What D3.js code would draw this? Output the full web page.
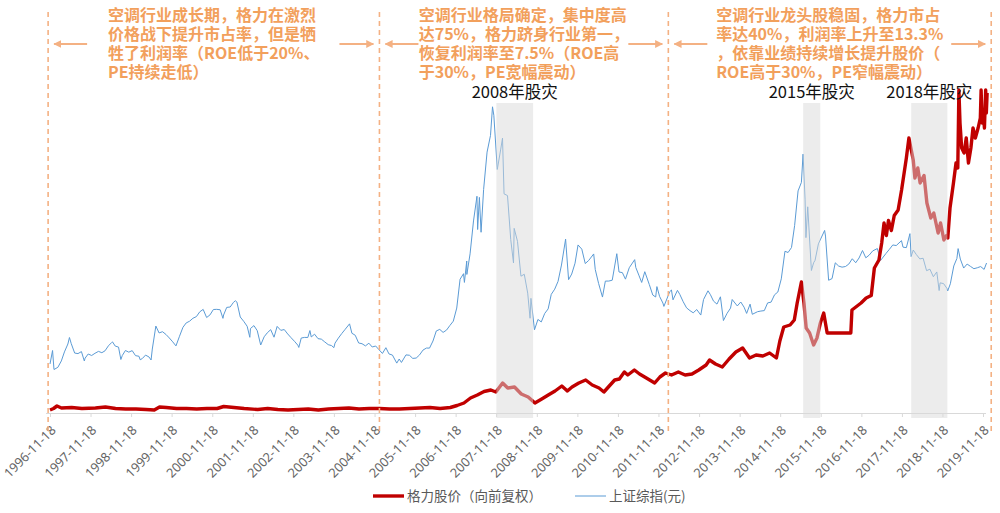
<!DOCTYPE html>
<html><head><meta charset="utf-8">
<script src="https://cdn.jsdelivr.net/npm/d3@7"></script>
<style>
html,body{margin:0;padding:0;background:#fff;}
svg{display:block;font-family:"Noto Sans CJK SC","Noto Sans",sans-serif;}
</style></head>
<body>
<svg id="chart" width="1000" height="513"></svg>
<script>
// ---------------- DATA ----------------
const tickLabels = ["1996-11-18","1997-11-18","1998-11-18","1999-11-18","2000-11-18","2001-11-18","2002-11-18","2003-11-18","2004-11-18","2005-11-18","2006-11-18","2007-11-18","2008-11-18","2009-11-18","2010-11-18","2011-11-18","2012-11-18","2013-11-18","2014-11-18","2015-11-18","2016-11-18","2017-11-18","2018-11-18","2019-11-18"];

// 上证综指 (date, value)
const shanghai = [
["1996-11-18",980],["1996-12-11",1250],["1996-12-24",870],["1997-01-28",914],["1997-02-28",1041],["1997-03-28",1222],["1997-04-28",1380],["1997-05-12",1510],["1997-05-28",1390],["1997-06-28",1199],["1997-07-28",1188],["1997-08-28",1228],["1997-09-23",1041],["1997-09-30",1097],["1997-10-28",1180],["1997-11-28",1150],["1997-12-28",1194],
["1998-01-28",1232],["1998-02-28",1206],["1998-03-28",1243],["1998-04-28",1344],["1998-05-28",1411],["1998-06-04",1422],["1998-06-28",1339],["1998-07-28",1318],["1998-08-18",1070],["1998-08-31",1150],["1998-09-28",1250],["1998-10-28",1217],["1998-11-28",1247],["1998-12-28",1147],
["1999-01-28",1135],["1999-02-08",1064],["1999-02-28",1091],["1999-03-28",1158],["1999-04-28",1121],["1999-05-17",1060],["1999-05-28",1279],["1999-06-29",1739],["1999-07-28",1601],["1999-08-28",1626],["1999-09-28",1571],["1999-10-28",1501],["1999-11-28",1423],["1999-12-27",1342],
["2000-01-28",1535],["2000-02-28",1714],["2000-03-28",1801],["2000-04-28",1836],["2000-05-28",1895],["2000-06-28",1928],["2000-07-28",2023],["2000-08-28",2072],["2000-09-28",1910],["2000-10-28",1961],["2000-11-28",2070],["2000-12-28",2073],
["2001-01-28",2065],["2001-02-22",1893],["2001-02-28",1960],["2001-03-28",2112],["2001-04-28",2120],["2001-05-28",2214],["2001-06-14",2245],["2001-06-28",2218],["2001-07-28",1920],["2001-08-28",1834],["2001-09-28",1735],["2001-10-22",1514],["2001-10-28",1690],["2001-11-28",1748],["2001-12-28",1646],
["2002-01-28",1360],["2002-02-28",1524],["2002-03-28",1603],["2002-04-28",1667],["2002-05-28",1516],["2002-06-25",1732],["2002-07-28",1653],["2002-08-28",1669],["2002-09-28",1581],["2002-10-28",1507],["2002-11-28",1434],["2002-12-28",1357],
["2003-01-06",1311],["2003-01-28",1500],["2003-02-28",1512],["2003-03-28",1510],["2003-04-16",1649],["2003-04-28",1521],["2003-05-28",1576],["2003-06-28",1487],["2003-07-28",1477],["2003-08-28",1421],["2003-09-28",1367],["2003-10-28",1348],["2003-11-18",1307],["2003-11-28",1397],["2003-12-28",1497],
["2004-01-28",1590],["2004-02-28",1675],["2004-04-07",1783],["2004-04-28",1595],["2004-05-28",1555],["2004-06-28",1400],["2004-07-28",1386],["2004-08-28",1342],["2004-09-28",1396],["2004-10-28",1320],["2004-11-28",1340],["2004-12-28",1266],
["2005-01-28",1191],["2005-02-28",1306],["2005-03-28",1181],["2005-04-28",1159],["2005-06-06",998],["2005-06-28",1080],["2005-07-18",1011],["2005-08-28",1162],["2005-09-28",1155],["2005-10-28",1092],["2005-11-28",1099],["2005-12-28",1161],
["2006-01-28",1258],["2006-02-28",1299],["2006-03-28",1298],["2006-04-28",1440],["2006-05-28",1641],["2006-06-28",1672],["2006-07-28",1612],["2006-08-28",1658],["2006-09-28",1752],["2006-10-28",1837],["2006-11-28",2099],["2006-12-28",2675],
["2007-01-28",2786],["2007-02-05",2612],["2007-02-26",3040],["2007-02-27",2771],["2007-03-28",3183],["2007-04-28",3841],["2007-05-29",4335],["2007-06-04",3670],["2007-06-20",4312],["2007-07-05",3615],["2007-07-28",4471],["2007-08-28",5218],["2007-09-28",5552],["2007-10-16",6124],["2007-10-28",5954],["2007-11-28",4871],["2007-12-28",5261],
["2008-01-14",5497],["2008-01-28",4383],["2008-02-28",4348],["2008-03-28",3472],["2008-04-22",3000],["2008-04-28",3693],["2008-05-28",3433],["2008-06-28",2736],["2008-07-28",2775],["2008-08-28",2397],["2008-09-18",1895],["2008-09-26",2293],["2008-10-28",1664],["2008-11-28",1871],["2008-12-28",1821],
["2009-01-28",1991],["2009-02-28",2082],["2009-03-28",2373],["2009-04-28",2477],["2009-05-28",2632],["2009-06-28",2959],["2009-08-04",3478],["2009-08-31",2667],["2009-09-28",2779],["2009-10-28",2996],["2009-11-24",3361],["2009-12-28",3277],
["2010-01-28",2989],["2010-02-28",3051],["2010-04-14",3181],["2010-04-28",2870],["2010-05-28",2592],["2010-07-02",2319],["2010-07-28",2638],["2010-08-28",2639],["2010-09-28",2656],["2010-11-08",3186],["2010-11-28",2820],["2010-12-28",2808],
["2011-01-25",2677],["2011-02-28",2905],["2011-04-18",3067],["2011-04-28",2911],["2011-05-28",2743],["2011-06-20",2611],["2011-07-18",2826],["2011-08-28",2567],["2011-09-28",2359],["2011-10-24",2320],["2011-11-04",2528],["2011-11-28",2333],["2011-12-28",2199],
["2012-01-06",2132],["2012-02-28",2428],["2012-03-14",2460],["2012-03-28",2263],["2012-05-07",2453],["2012-05-28",2373],["2012-06-28",2225],["2012-07-28",2103],["2012-08-28",2047],["2012-09-26",2004],["2012-10-28",2069],["2012-12-03",1959],["2012-12-28",2269],
["2013-02-06",2444],["2013-02-28",2366],["2013-03-28",2237],["2013-04-28",2178],["2013-05-29",2324],["2013-06-25",1849],["2013-07-28",1994],["2013-08-28",2098],["2013-09-12",2270],["2013-10-28",2141],["2013-11-28",2220],["2013-12-28",2116],
["2014-01-20",1992],["2014-02-20",2177],["2014-03-12",1974],["2014-04-28",2026],["2014-05-28",2039],["2014-06-28",2048],["2014-07-28",2202],["2014-08-28",2217],["2014-09-28",2364],["2014-10-28",2420],["2014-11-28",2683],["2014-12-31",3235],
["2015-01-28",3210],["2015-02-28",3310],["2015-03-28",3748],["2015-04-28",4442],["2015-05-28",4612],["2015-06-12",5178],["2015-06-30",4277],["2015-07-08",3507],["2015-07-24",4124],["2015-08-26",2850],["2015-09-15",3005],["2015-09-28",3053],["2015-10-28",3383],["2015-12-23",3651],["2015-12-31",3539],
["2016-01-28",2655],["2016-02-28",2688],["2016-03-28",3004],["2016-04-28",2938],["2016-05-28",2917],["2016-06-28",2930],["2016-07-28",2979],["2016-08-28",3085],["2016-09-28",3005],["2016-10-28",3100],["2016-11-28",3250],["2016-12-28",3104],
["2017-01-28",3159],["2017-02-28",3242],["2017-04-11",3289],["2017-05-10",3052],["2017-06-28",3192],["2017-07-28",3273],["2017-08-28",3361],["2017-09-28",3349],["2017-11-14",3447],["2017-11-28",3317],["2017-12-28",3307],
["2018-01-29",3587],["2018-02-09",3129],["2018-02-28",3259],["2018-03-28",3169],["2018-04-28",3082],["2018-05-28",3095],["2018-06-28",2847],["2018-07-28",2876],["2018-08-28",2725],["2018-09-28",2821],["2018-10-19",2449],["2018-10-28",2603],["2018-11-28",2588],["2018-12-28",2494],
["2019-01-04",2440],["2019-01-28",2585],["2019-02-28",2941],["2019-03-28",3091],["2019-04-08",3288],["2019-04-28",3078],["2019-05-28",2899],["2019-06-28",2979],["2019-07-28",2933],["2019-08-28",2886],["2019-09-28",2905],["2019-10-28",2929],["2019-11-28",2872],["2019-12-20",3000]
];

// 格力股价（向前复权） (date, value)
const gree = [
["1996-11-18",0.6],["1996-12-20",0.9],["1997-01-20",1.4],["1997-03-01",1.0],["1997-06-01",1.1],["1997-09-01",0.9],["1998-01-01",1.0],["1998-04-01",1.2],["1998-07-01",0.9],["1998-10-01",0.8],
["1999-01-01",0.8],["1999-04-01",0.7],["1999-06-15",0.6],["1999-08-01",1.2],["1999-10-01",1.1],["2000-01-01",0.9],["2000-04-01",0.9],["2000-07-01",0.8],["2000-10-01",0.9],
["2001-01-01",0.9],["2001-03-01",1.3],["2001-06-01",1.1],["2001-09-01",0.9],["2002-01-01",0.7],["2002-04-01",0.9],["2002-07-01",0.7],["2002-10-01",0.6],
["2003-01-01",0.7],["2003-04-01",0.8],["2003-07-01",0.6],["2003-10-01",0.8],["2004-01-01",0.9],["2004-04-01",1.0],["2004-07-01",0.8],["2004-10-01",0.9],
["2005-01-01",0.9],["2005-04-01",0.8],["2005-07-01",0.8],["2005-10-01",0.9],["2006-01-01",1.0],["2006-04-01",1.1],["2006-07-01",0.9],["2006-10-01",1.1],["2006-12-01",1.5],
["2007-02-01",2.0],["2007-04-01",3.0],["2007-06-01",3.6],["2007-08-01",4.3],["2007-10-01",4.6],["2007-11-15",4.2],["2008-01-15",6.0],["2008-03-01",5.0],["2008-05-01",5.2],["2008-07-01",3.8],["2008-09-01",3.2],["2008-11-01",2.0],
["2009-01-01",2.8],["2009-03-01",3.6],["2009-05-01",4.4],["2009-07-01",5.4],["2009-08-20",4.4],["2009-10-01",5.2],["2009-12-01",6.0],
["2010-02-01",6.6],["2010-04-01",5.6],["2010-06-01",5.0],["2010-07-15",4.2],["2010-09-01",5.4],["2010-10-20",6.6],["2010-12-01",6.8],
["2011-01-15",8.2],["2011-02-15",7.6],["2011-04-15",8.6],["2011-06-01",7.8],["2011-08-01",7.0],["2011-10-15",6.0],["2011-12-01",7.2],
["2012-01-20",8.0],["2012-03-15",7.6],["2012-05-15",8.2],["2012-07-15",7.6],["2012-09-15",7.8],["2012-11-15",8.6],
["2013-01-20",9.6],["2013-02-20",10.6],["2013-04-15",9.8],["2013-06-15",9.2],["2013-08-15",10.8],["2013-10-15",12.2],["2013-12-15",13.0],
["2014-02-15",11.0],["2014-04-15",11.6],["2014-06-15",11.4],["2014-08-15",12.0],["2014-10-15",11.0],["2014-11-15",14.4],["2014-12-20",17.2],
["2015-02-15",17.6],["2015-03-25",18.6],["2015-04-20",22.0],["2015-05-28",26.2],["2015-06-20",22.0],["2015-07-10",17.0],["2015-08-10",16.0],["2015-09-15",13.6],["2015-10-15",15.0],["2015-11-15",18.0],["2015-12-15",20.0],
["2016-01-15",16.0],["2016-08-15",16.0],["2016-08-25",20.6],["2016-11-15",22.0],["2016-12-31",23.0],
["2017-02-15",23.5],["2017-03-15",29.0],["2017-04-25",30.6],["2017-05-20",34.0],["2017-06-10",38.0],["2017-07-01",35.5],["2017-07-20",38.5],["2017-08-15",36.5],["2017-09-10",39.5],["2017-10-15",40.6],["2017-11-15",44.6],["2017-12-28",51.0],
["2018-01-20",55.0],["2018-02-28",50.6],["2018-03-15",47.0],["2018-04-10",49.0],["2018-05-01",46.0],["2018-06-05",47.5],["2018-07-01",42.0],["2018-08-05",39.0],["2018-09-01",40.0],["2018-10-10",36.0],["2018-11-01",38.0],["2018-12-01",34.6],["2018-12-25",35.5],
["2019-01-05",35.0],["2019-01-25",41.0],["2019-02-25",46.0],["2019-03-20",50.0],["2019-04-05",49.0],["2019-04-15",64.6],["2019-04-25",58.0],["2019-05-10",53.0],["2019-06-01",52.0],["2019-06-20",55.0],["2019-07-10",50.0],["2019-08-01",53.0],["2019-08-20",57.0],["2019-09-10",55.0],["2019-10-05",57.0],["2019-10-25",59.0],["2019-11-01",64.6],["2019-11-10",58.0],["2019-11-20",60.0],["2019-12-01",57.0],["2019-12-12",64.6],["2019-12-18",60.0],["2019-12-25",64.0]
];

const crashBands = [["2007-11-20","2008-10-15"],["2015-06-13","2015-11-14"],["2018-02-10","2019-01-01"]];
const crashLabels = ["2008年股灾","2015年股灾","2018年股灾"];
const phaseDividers = ["1996-11-01","2005-01-01","2012-02-15","2020-01-31"];
const phaseTexts = [
  ["空调行业成长期，格力在激烈","价格战下提升市占率，但是牺","牲了利润率（ROE低于20%、","PE持续走低）"],
  ["空调行业格局确定，集中度高","达75%，格力跻身行业第一，","恢复利润率至7.5%（ROE高","于30%，PE宽幅震动）"],
  ["空调行业龙头股稳固，格力市占","率达40%，利润率上升至13.3%","，依靠业绩持续增长提升股价（","ROE高于30%，PE窄幅震动）"]
];
const seriesNames = ["格力股价（向前复权）","上证综指(元)"];

// ---------------- DRAW ----------------
const parse = d3.timeParse("%Y-%m-%d");
const svg = d3.select("#chart");
const plotTop = 63, plotBottom = 413;
const orange = "#F4B183", orangeText = "#F2A05C";
const red = "#C00000", blue = "#5B9BD5";

const x = d3.scaleTime().domain([parse(tickLabels[0]), parse(tickLabels[tickLabels.length-1])]).range([50, 983]);
const yBlue = d3.scaleLinear().domain([0, 7000]).range([plotBottom, plotTop]);
const yRed = d3.scaleLinear().domain([0, 70]).range([plotBottom, plotTop]);

const blueLine = d3.line().x(d => x(parse(d[0]))).y(d => yBlue(d[1]));
const redLine = d3.line().x(d => x(parse(d[0]))).y(d => yRed(d[1]));

svg.append("path").datum(shanghai).attr("d", blueLine)
  .attr("fill","none").attr("stroke", blue).attr("stroke-width", 1).attr("stroke-linejoin","round");
svg.append("path").datum(gree).attr("d", redLine)
  .attr("fill","none").attr("stroke", red).attr("stroke-width", 3.4).attr("stroke-linejoin","round");

// crash bands (over the lines, semi-transparent)
svg.selectAll("rect.band").data(crashBands).join("rect").attr("class","band")
  .attr("x", d => x(parse(d[0]))).attr("width", d => x(parse(d[1])) - x(parse(d[0])))
  .attr("y", 103).attr("height", 418 - 103)
  .attr("fill", "#d9d9d9").attr("fill-opacity", 0.5);

svg.selectAll("text.crash").data(crashBands).join("text").attr("class","crash")
  .attr("x", d => (x(parse(d[0])) + x(parse(d[1]))) / 2)
  .attr("y", 97.5).attr("text-anchor","middle")
  .attr("font-size", 16.5).attr("fill", "#111")
  .text((d,i) => crashLabels[i]);

// axis
const axis = d3.axisBottom(x)
  .tickValues(tickLabels.map(parse))
  .tickFormat(d3.timeFormat("%Y-%m-%d"))
  .tickSizeInner(4).tickSizeOuter(0);
const gAxis = svg.append("g").attr("transform", `translate(0,${plotBottom})`).call(axis);
gAxis.select(".domain").attr("stroke", "#d9d9d9").attr("d", "M46,0.5H986");
gAxis.selectAll(".tick line").attr("stroke", "#d9d9d9");
gAxis.selectAll(".tick text")
  .attr("x", 0).attr("y", 0).attr("dy", "0.35em")
  .attr("text-anchor", "end")
  .attr("transform", "translate(3,15) rotate(-45)")
  .attr("font-size", 12.8).attr("fill", "#666")
  .attr("font-family", "'Noto Sans','Noto Sans CJK SC',sans-serif");

// phase dividers
const divX = phaseDividers.map(d => x(parse(d)));
svg.selectAll("line.div").data(divX).join("line").attr("class","div")
  .attr("x1", d => d).attr("x2", d => d).attr("y1", 12).attr("y2", 435)
  .attr("stroke", orange).attr("stroke-width", 1.6).attr("stroke-dasharray", "5,4");

const defs = svg.append("defs");
defs.append("marker").attr("id","arrow").attr("viewBox","0 0 10 10").attr("refX", 9).attr("refY", 5)
  .attr("markerWidth", 8).attr("markerHeight", 8).attr("markerUnits","userSpaceOnUse").attr("orient","auto")
  .append("path").attr("d","M0,0L10,5L0,10z").attr("fill", orange);

const arrowY = 44;
for (let i = 0; i < phaseTexts.length; i++) {
  const a = divX[i], b = divX[i+1];
  svg.append("line").attr("x1", a + 39).attr("x2", a + 6).attr("y1", arrowY).attr("y2", arrowY)
    .attr("stroke", orange).attr("stroke-width", 2).attr("marker-end","url(#arrow)");
  svg.append("line").attr("x1", b - 40).attr("x2", b - 6).attr("y1", arrowY).attr("y2", arrowY)
    .attr("stroke", orange).attr("stroke-width", 2).attr("marker-end","url(#arrow)");
  const g = svg.append("g");
  const t = g.selectAll("text").data(phaseTexts[i]).join("text")
    .attr("y", (d, j) => 21 + j * 19)
    .attr("font-size", 16).attr("font-weight", "bold").attr("fill", orangeText)
    .text(d => d);
  const w = d3.max(t.nodes(), n => n.getComputedTextLength());
  t.attr("x", (a + b) / 2 - w / 2);
}

// legend
const legend = svg.append("g");
const legendItems = [{name: seriesNames[0], color: red, w: 3.4, x0: 373}, {name: seriesNames[1], color: blue, w: 1, x0: 575}];
legend.selectAll("line").data(legendItems).join("line")
  .attr("x1", d => d.x0).attr("x2", d => d.x0 + 31).attr("y1", 496).attr("y2", 496)
  .attr("stroke", d => d.color).attr("stroke-width", d => d.w);
legend.selectAll("text").data(legendItems).join("text")
  .attr("x", d => d.x0 + 34).attr("y", 501)
  .attr("font-size", 13.5).attr("fill", "#595959")
  .text(d => d.name);
</script>
</body></html>
